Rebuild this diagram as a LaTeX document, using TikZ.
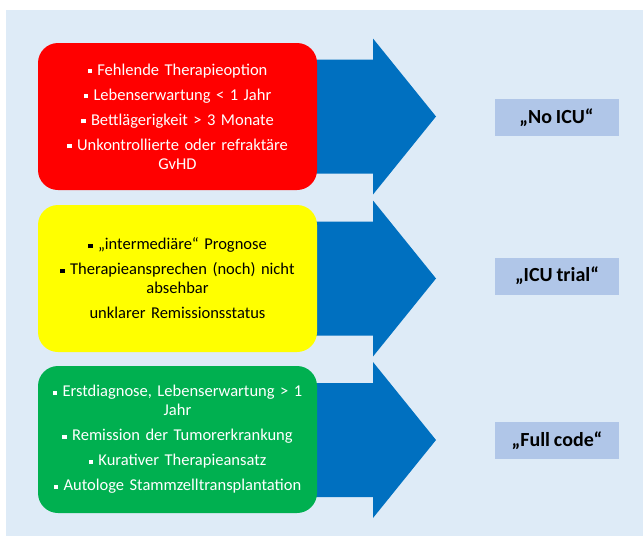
\documentclass[tikz,border=0pt]{standalone}
\usepackage{fontspec}
\setmainfont[WordSpace=0.85]{Carlito}
\definecolor{bgblue}{HTML}{DEEBF7}
\definecolor{arrblue}{HTML}{0070C0}
\definecolor{lblblue}{HTML}{B0C6E8}
\definecolor{boxred}{HTML}{FF0000}
\definecolor{boxyellow}{HTML}{FFFF00}
\definecolor{boxgreen}{HTML}{00B050}
\newcommand\bul{\raisebox{0.22ex}{\rule{0.26em}{0.26em}}\ }
\begin{document}
\begin{tikzpicture}[x=1pt,y=-1pt,
  catbox/.style={rounded corners=20pt, minimum width=279pt, minimum height=147pt,
    text width=275pt, align=center, inner sep=0pt,
    font=\fontsize{16.5}{19}\selectfont},
  lbl/.style={fill=lblblue, minimum width=124pt, minimum height=37pt, inner sep=0pt,
    font=\bfseries\fontsize{20}{22}\selectfont},
  blockarrow/.style={fill=arrblue, draw=none}]
\useasboundingbox (0,0) rectangle (643,536);
\fill[bgblue] (6,10) rectangle (643,536);
% arrows
\foreach \c in {116.5,278.5,440}{
  \fill[arrblue] (300,\c-57) -- (373,\c-57) -- (373,\c-78) -- (436,\c)
    -- (373,\c+78) -- (373,\c+57) -- (300,\c+57) -- cycle;
}
% boxes
\node[catbox, fill=boxred, text=white] (red) at (177.5,116.5)
  {\bul Fehlende Therapieoption\\[6pt]
   \bul Lebenserwartung < 1 Jahr\\[6pt]
   \bul Bettlägerigkeit > 3 Monate\\[6pt]
   \bul Unkontrollierte oder refraktäre\\GvHD};
\node[catbox, fill=boxyellow, text=black] (yellow) at (177.5,278.5)
  {\bul „intermediäre“ Prognose\\[6pt]
   \bul Therapieansprechen (noch) nicht\\absehbar\\[6pt]
   unklarer Remissionsstatus};
\node[catbox, fill=boxgreen, text=white] (green) at (177.5,439.5)
  {\bul Erstdiagnose, Lebenserwartung > 1\\Jahr\\[6pt]
   \bul Remission der Tumorerkrankung\\[6pt]
   \bul Kurativer Therapieansatz\\[6pt]
   \bul Autologe Stammzelltransplantation};
% labels
\node[lbl] (noicu) at (556.5,117.5) {„No ICU“};
\node[lbl] (trial) at (557,276) {„ICU trial“};
\node[lbl] (full) at (557,440.5) {„Full code“};
\end{tikzpicture}
\end{document}
